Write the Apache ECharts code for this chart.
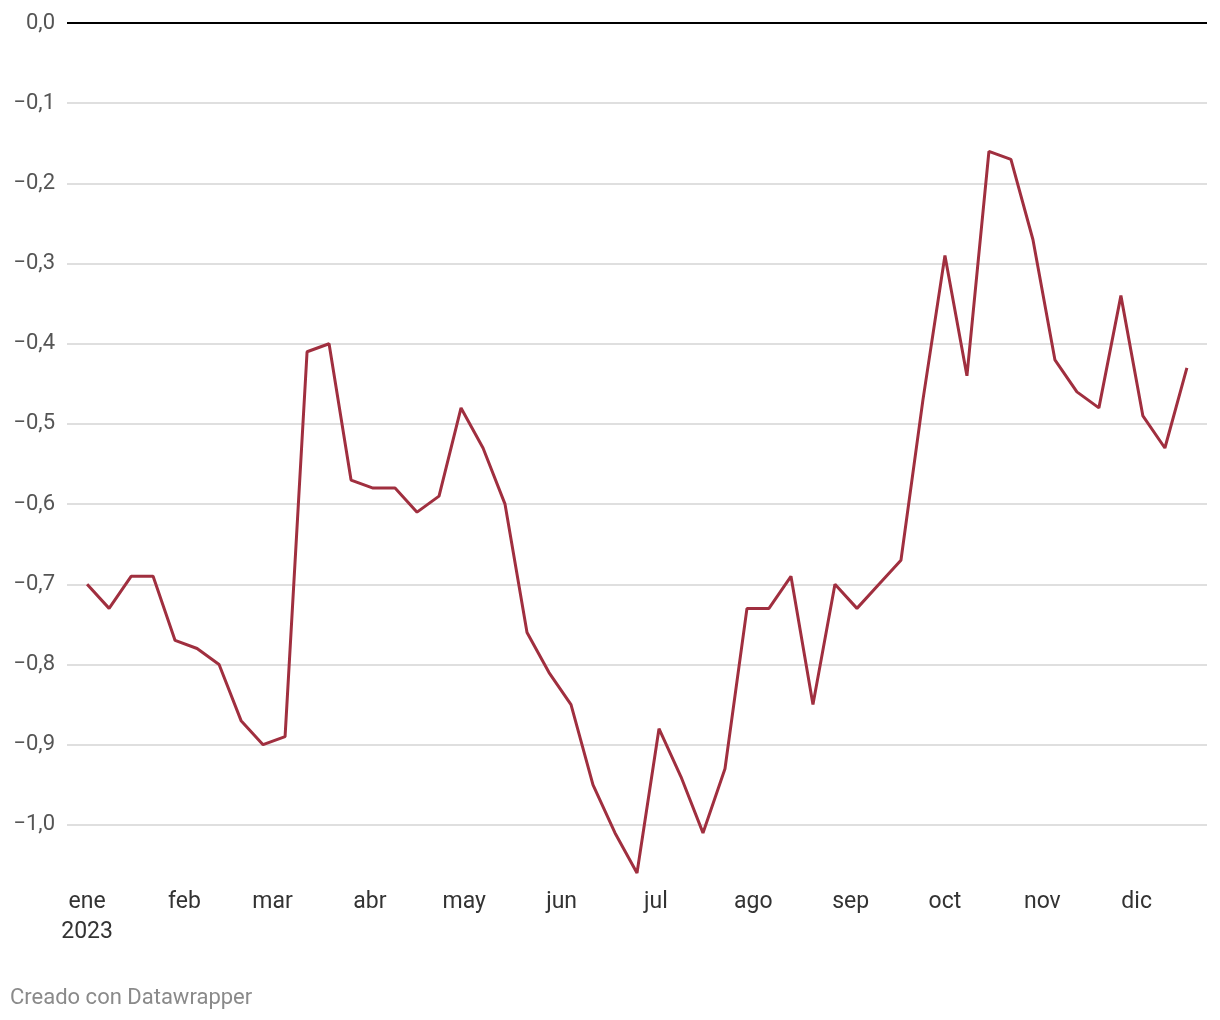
<!DOCTYPE html>
<html>
<head>
<meta charset="utf-8">
<script src="https://cdn.jsdelivr.net/npm/echarts@6/dist/echarts.min.js"></script>
<style>
html,body{margin:0;padding:0;background:#fff;}
#chart{width:1220px;height:1020px;}
</style>
</head>
<body>
<div id="chart"></div>
<script>
// Weekly dates (first week starts 2023-01-01)
const startDate = '2023-01-01';
const weekCount = 51;
const values = [
  -0.70, -0.73, -0.69, -0.69, -0.77, -0.78, -0.80, -0.87, -0.90, -0.89,
  -0.41, -0.40, -0.57, -0.58, -0.58, -0.61, -0.59, -0.48, -0.53, -0.60,
  -0.76, -0.81, -0.85, -0.95, -1.01, -1.06, -0.88, -0.94, -1.01, -0.93,
  -0.73, -0.73, -0.69, -0.85, -0.70, -0.73, -0.70, -0.67, -0.47, -0.29,
  -0.44, -0.16, -0.17, -0.27, -0.42, -0.46, -0.48, -0.34, -0.49, -0.53,
  -0.43
];
const monthNames = ['ene','feb','mar','abr','may','jun','jul','ago','sep','oct','nov','dic'];
const yearLabel = '2023';
const footerText = 'Creado con Datawrapper';

const DAY = 86400000;
const dates = [];
for (let i = 0; i < weekCount; i++) dates.push(new Date(2023, 0, 1 + 7 * i).getTime());
const seriesData = dates.map((d, i) => [d, values[i]]);
const padDays = 6.4;

const chart = echarts.init(document.getElementById('chart'));
function fmtY(v) {
  const s = Math.abs(v).toFixed(1).replace('.', ',');
  return (v < -1e-9 ? '\u2212' : '') + s;
}
// ticks: [-1.06 (extent min), -1.0, -0.9, ..., -0.1, 0]
const gridColors = ['rgba(0,0,0,0)'];
for (let i = 0; i < 10; i++) gridColors.push('#d5d5d5');
gridColors.push('rgba(0,0,0,0)');

chart.setOption({
  animation: false,
  backgroundColor: '#ffffff',
  textStyle: { fontFamily: 'Roboto' },
  grid: { left: 67, right: 13, top: 23, bottom: 147, containLabel: false },
  xAxis: {
    type: 'time',
    min: dates[0] - padDays * DAY,
    max: dates[dates.length - 1] + padDays * DAY,
    splitNumber: 12,
    minInterval: 28 * DAY,
    maxInterval: 31 * DAY,
    axisLine: { show: false },
    axisTick: { show: false },
    splitLine: { show: false },
    axisLabel: {
      fontFamily: 'Roboto',
      fontSize: 23,
      color: '#333333',
      lineHeight: 30,
      margin: 14,
      verticalAlign: 'top',
      formatter: function (val) {
        const d = new Date(val);
        const m = d.getMonth();
        return m === 0 ? monthNames[m] + '\n' + yearLabel : monthNames[m];
      }
    }
  },
  yAxis: {
    type: 'value',
    min: -1.06,
    max: 0,
    splitNumber: 10,
    axisLine: { show: false },
    axisTick: { show: false },
    axisLabel: {
      fontFamily: 'Roboto',
      fontSize: 22,
      color: '#555555',
      margin: 12,
      showMinLabel: false,
      formatter: fmtY
    },
    splitLine: { show: true, lineStyle: { color: gridColors, width: 1.5 } }
  },
  graphic: [{
    type: 'text',
    left: 10,
    top: 987,
    style: { text: footerText, fontFamily: 'Roboto', fontSize: 22, fill: '#8a8a8a' }
  }],
  series: [{
    type: 'line',
    data: seriesData,
    showSymbol: false,
    symbol: 'none',
    lineStyle: { color: '#a02f3f', width: 3 },
    itemStyle: { color: '#a02f3f' },
    z: 3,
    markLine: {
      silent: true,
      symbol: 'none',
      label: { show: false },
      lineStyle: { color: '#000000', width: 2, type: 'solid' },
      data: [{ yAxis: 0 }],
      z: 2
    }
  }]
});
</script>
</body>
</html>
